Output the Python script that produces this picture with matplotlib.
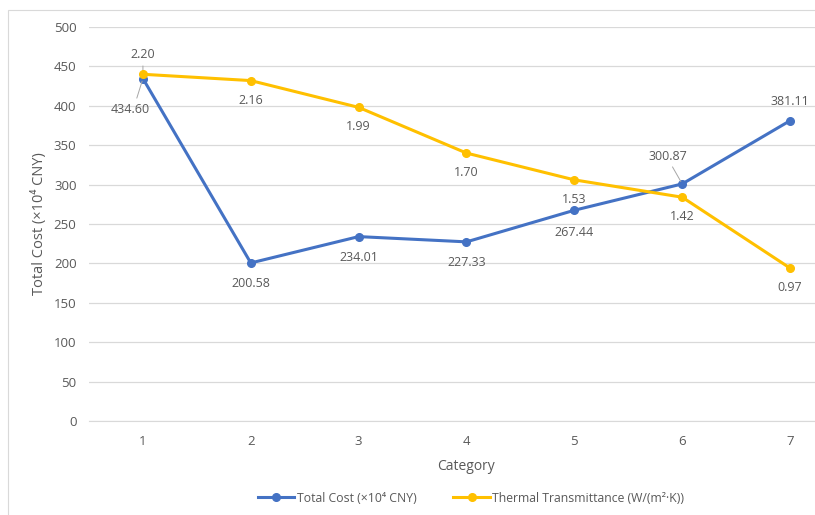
import matplotlib.pyplot as plt
from matplotlib.patches import Rectangle

plt.rcParams['font.family'] = ['Open Sans', 'DejaVu Sans']

categories = [1, 2, 3, 4, 5, 6, 7]
total_cost = [434.60, 200.58, 234.01, 227.33, 267.44, 300.87, 381.11]
thermal = [2.20, 2.16, 1.99, 1.70, 1.53, 1.42, 0.97]
thermal_scale = 200  # thermal values drawn on the cost axis
y_ticks = [0, 50, 100, 150, 200, 250, 300, 350, 400, 450, 500]

blue = "#4472C4"
gold = "#FFC000"
text_c = "#595959"

fig = plt.figure(figsize=(8.15, 5.15), dpi=100)
# chart border
fig.add_artist(Rectangle((8 / 815, -0.1), 1.2, 1 - 10 / 515 + 0.1, transform=fig.transFigure,
                         fill=False, edgecolor="#D9D9D9", linewidth=0.8))
ax = fig.add_axes([89 / 815, 1 - 421 / 515, 755 / 815, 394 / 515])

thermal_plot = [t * thermal_scale for t in thermal]
ax.plot(categories, total_cost, color=blue, lw=2.2, marker="o", ms=5.5, label="Total Cost (×10⁴ CNY)", zorder=3)
ax.plot(categories, thermal_plot, color=gold, lw=2.2, marker="o", ms=5.5,
        label="Thermal Transmittance (W/(m²·K))", zorder=4)

ax.set_xlim(0.5, 7.5)
ax.set_ylim(0, 500)
ax.set_yticks(y_ticks)
ax.set_xticks(categories)
ax.grid(axis="y", color="#D9D9D9", lw=0.9)
ax.set_axisbelow(True)
for s in ["top", "right", "left"]:
    ax.spines[s].set_visible(False)
ax.spines["bottom"].set_color("#D9D9D9")
ax.tick_params(length=0, labelsize=9.5, colors=text_c, pad=9)
ax.tick_params(axis="x", pad=10)

ax.set_xlabel("Category", fontsize=10, color=text_c, labelpad=8)
ax.set_ylabel("Total Cost (×10⁴ CNY)", fontsize=10.5, color=text_c, labelpad=5)

# data labels for total cost (offsets in points)
cost_off = [(-9, -22), (0, -15), (0, -15), (0, -15), (0, -16), (-10, 20), (0, 14)]
for x, y, o in zip(categories, total_cost, cost_off):
    ax.annotate(f"{y:.2f}", (x, y), xytext=o, textcoords="offset points", ha="center", va="center",
                fontsize=9, color=text_c)
# leader lines
ax.annotate("", (1, total_cost[0]), xytext=(-5, -16), textcoords="offset points",
            arrowprops=dict(arrowstyle="-", color="#A6A6A6", lw=0.7))
ax.annotate("", (6, total_cost[5]), xytext=(-8, 14), textcoords="offset points",
            arrowprops=dict(arrowstyle="-", color="#A6A6A6", lw=0.7))

th_off = [(0, 14), (0, -14), (0, -14), (0, -14), (0, -14), (0, -14), (0, -14)]
for x, t, yp, o in zip(categories, thermal, thermal_plot, th_off):
    ax.annotate(f"{t:.2f}", (x, yp), xytext=o, textcoords="offset points", ha="center", va="center",
                fontsize=9, color=text_c)
ax.annotate("", (1, thermal_plot[0]), xytext=(0, 8), textcoords="offset points",
            arrowprops=dict(arrowstyle="-", color="#A6A6A6", lw=0.7))

fig.legend(loc="center", bbox_to_anchor=(471 / 815, 1 - 498 / 515), ncol=2, frameon=False,
           fontsize=8.8, labelcolor=text_c, handlelength=3, columnspacing=3, handletextpad=0.2)

fig.savefig("out.png", dpi=100)
